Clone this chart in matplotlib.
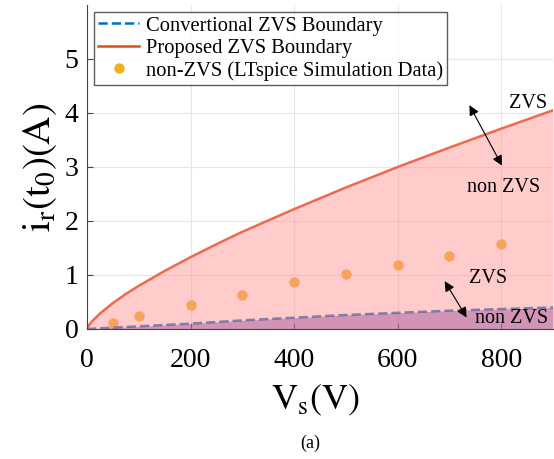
import numpy as np
import matplotlib
matplotlib.use("Agg")
import matplotlib.pyplot as plt

plt.rcParams['font.family'] = ['Liberation Serif', 'DejaVu Serif']
plt.rcParams['mathtext.fontset'] = 'stix'

# boundary curves
vs = [0, 2, 5, 10, 25, 50, 75, 100, 150, 200, 250, 300, 400, 500, 600, 700, 800, 900]
i_proposed = [0, 0.044, 0.087, 0.145, 0.286, 0.48, 0.65, 0.80, 1.075, 1.33, 1.57,
              1.80, 2.22, 2.62, 3.00, 3.36, 3.71, 4.05]
i_conv = [0, 0.001, 0.003, 0.005, 0.013, 0.025, 0.038, 0.05, 0.075, 0.10, 0.13,
          0.16, 0.21, 0.26, 0.30, 0.34, 0.37, 0.40]

# LTspice non-ZVS points
sim_vs = [50, 100, 200, 300, 400, 500, 600, 700, 800]
sim_i = [0.12, 0.25, 0.45, 0.63, 0.87, 1.02, 1.18, 1.35, 1.57]

fig = plt.figure(figsize=(5.54, 4.59), dpi=100)
ax = fig.add_axes([87/554, 1-329/459, 466/554, 324/459])

ax.plot(sim_vs, sim_i, 'o', color='#EDB120', markersize=6.5, zorder=2,
        label='non-ZVS (LTspice Simulation Data)')
l1, = ax.plot(vs, i_conv, '--', color='#0072BD', lw=1.8, zorder=3,
              label='Convertional ZVS Boundary')
ax.fill_between(vs, 0, i_proposed, color='#FF9999', alpha=0.5, lw=0, zorder=4)
ax.fill_between(vs, 0, i_conv, color='#7E2F8E', alpha=0.35, lw=0, zorder=4)
ax.plot(vs, i_proposed, '-', color='#EE6A4E', lw=1.8, zorder=5)
# legend handle in the un-faded colour
l2, = ax.plot([], [], '-', color='#D95319', lw=1.8, label='Proposed ZVS Boundary')

ax.set_xlim(0, 900)
ax.set_ylim(0, 6)
ax.set_xticks([0, 200, 400, 600, 800])
ax.set_yticks([0, 1, 2, 3, 4, 5])
ax.tick_params(direction='in', labelsize=20, length=4, color='#444444')
ax.tick_params(axis='x', pad=14)
ax.tick_params(axis='y', pad=6)
ax.grid(True, color='#e6e6e6', lw=0.8)
ax.set_axisbelow(True)
for s in ['top', 'right']:
    ax.spines[s].set_visible(False)
for s in ['left', 'bottom']:
    ax.spines[s].set_color('#444444')
    ax.spines[s].set_zorder(5)

ax.set_xlabel(r'$\mathrm{V_s(V)}$', fontsize=26, labelpad=4)
ax.xaxis.set_label_coords(0.49, -0.165)
ax.set_ylabel(r'$\mathrm{i_r(t_0)(A)}$', fontsize=28, labelpad=4)

h, lab = ax.get_legend_handles_labels()
leg = ax.legend([l1, l2, h[0]], [lab[1], lab[2], lab[0]], loc='upper left',
                fontsize=14.8, frameon=True, fancybox=False, edgecolor='#333333',
                borderpad=0.2, labelspacing=0.14, handlelength=2.0,
                handletextpad=0.3, borderaxespad=0.35)
leg.get_frame().set_linewidth(1.0)
leg.set_zorder(6)

ax.annotate('', xy=(736, 4.19), xytext=(804, 2.98),
            arrowprops=dict(arrowstyle='<|-|>', color='black', lw=0.8,
                            mutation_scale=15), zorder=5)
ax.text(815, 4.17, 'ZVS', fontsize=14.5, va='center', zorder=5)
ax.text(733, 2.62, 'non ZVS', fontsize=14.5, va='center', zorder=5)

ax.annotate('', xy=(688, 0.93), xytext=(736, 0.17),
            arrowprops=dict(arrowstyle='<|-|>', color='black', lw=0.8,
                            mutation_scale=15), zorder=5)
ax.text(737, 0.93, 'ZVS', fontsize=14.5, va='center', zorder=5)
ax.text(750, 0.2, 'non ZVS', fontsize=14.5, va='center', zorder=5)

fig.text(310/554, 1-443/459, '(a)', fontsize=13, ha='center', va='center')

fig.savefig('out.png', dpi=100)
